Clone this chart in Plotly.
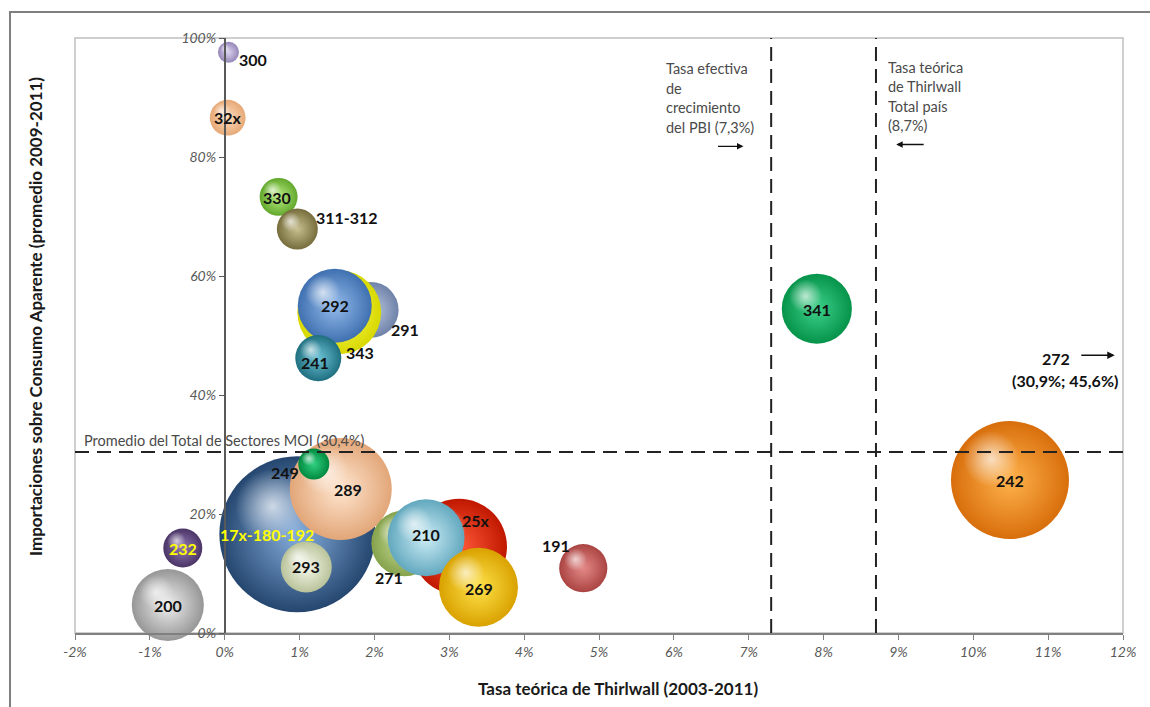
import math
import plotly.graph_objects as go

# Sectores (CIIU) y sus valores
sectores = ["17x-180-192", "242", "289", "25x", "271", "210", "269", "291", "343",
            "292", "241", "200", "341", "293", "191", "249", "232", "330",
            "311-312", "32x", "300"]
# Tasa teórica de Thirlwall 2003-2011 (%)
tasa_thirlwall = [0.97, 10.49, 1.55, 3.13, 2.40, 2.69, 3.39, 1.95, 1.53,
                  1.47, 1.25, -0.76, 7.91, 1.09, 4.79, 1.19, -0.56, 0.72,
                  0.97, 0.04, 0.05]
# Importaciones sobre consumo aparente, promedio 2009-2011 (%)
imp_consumo = [16.6, 25.7, 24.2, 14.5, 15.1, 16.0, 7.7, 54.3, 53.9,
               55.0, 46.2, 4.7, 54.5, 11.1, 10.9, 28.4, 14.3, 73.3,
               67.9, 86.6, 97.6]
# Tamaño relativo de cada burbuja
peso_sector = [60.8, 34.8, 26.0, 23.0, 10.9, 14.8, 15.6, 7.8, 17.6,
               13.7, 5.3, 13.0, 12.3, 6.5, 5.8, 2.4, 3.8, 3.6,
               4.2, 3.2, 1.1]

tasa_pbi = 7.3          # tasa efectiva de crecimiento del PBI
tasa_total_pais = 8.7   # tasa teórica de Thirlwall, total país
promedio_moi = 30.4     # promedio del total de sectores MOI
x_ticks = [-2, -1, 0, 1, 2, 3, 4, 5, 6, 7, 8, 9, 10, 11, 12]
y_ticks = [0, 20, 40, 60, 80, 100]

# Estilos de cada burbuja: color de borde y color del centro (efecto esfera)
borde = ["#24466F", "#D86E0C", "#E2A678", "#C01800", "#86A24C", "#62A8BE",
         "#D9A200", "#6F82A8", "#D8D800", "#3F70B0", "#1F6F80", "#969696",
         "#06934A", "#B9C39A", "#AA4442", "#00893F", "#4B3566", "#62A82C",
         "#776D3C", "#E6A876", "#9486B8"]
centro = ["#86AEDD", "#FFB34C", "#FFE6D0", "#FF5A3A", "#C8DE98", "#CDEDF6",
          "#FFE24A", "#BCCAE4", "#FFFF66", "#95BCEC", "#6CC3D6", "#F0F0F0",
          "#3CD08A", "#F6F8EC", "#E48A88", "#30D080", "#8F77B0", "#B9EC82",
          "#C8C090", "#FFDDBE", "#DCD3EE"]
# Desplazamiento de cada etiqueta en píxeles (dx a la derecha, dy hacia abajo)
desp = [(-30, 0), (0, 0), (7, 0), (17, -26), (-15, 34), (0, -3), (1, 1),
        (34, 20), (21, 40), (0, 0), (-3, 4), (0, 0), (0, 1), (0, 0),
        (-27, -23), (-29, 8), (0, 1), (-2, 1), (50, -11), (0, 0), (25, 7)]
etiqueta_amarilla = {"17x-180-192", "232"}

W, H = 1150, 707
ML, MR, MT, MB = 75, 27, 38, 74
XR = [-2, 12]
YR = [0, 100]
PW, PH = W - ML - MR, H - MT - MB
px_x = PW / (XR[1] - XR[0])
px_y = PH / (YR[1] - YR[0])
SIZEREF = 1 / 200.0

FONT = "Lato"

fig = go.Figure()

for i, s in enumerate(sectores):
    x, y, v = tasa_thirlwall[i], imp_consumo[i], peso_sector[i]
    r = math.sqrt(v / (2 * SIZEREF))  # radio en píxeles con sizemode="area"
    # esfera
    fig.add_trace(go.Scatter(
        x=[x], y=[y], mode="markers", hoverinfo="skip", showlegend=False,
        cliponaxis=False,
        marker=dict(size=[v], sizemode="area", sizeref=SIZEREF, opacity=1,
                    color=borde[i], line=dict(width=0),
                    gradient=dict(type="radial", color=centro[i]))))
    # brillo superior izquierdo
    fig.add_trace(go.Scatter(
        x=[x - 0.32 * r / px_x], y=[y + 0.36 * r / px_y], mode="markers",
        hoverinfo="skip", showlegend=False, cliponaxis=False,
        marker=dict(size=[0.95 * r], sizemode="diameter", sizeref=1, opacity=1,
                    color="rgba(255,255,255,0)", line=dict(width=0),
                    gradient=dict(type="radial", color="rgba(255,255,255,0.7)"))))

annotations = []
for i, s in enumerate(sectores):
    dx, dy = desp[i]
    annotations.append(dict(
        x=tasa_thirlwall[i], y=imp_consumo[i], xref="x", yref="y", text=s,
        showarrow=False, xshift=dx, yshift=-dy,
        font=dict(family=FONT, size=16, weight="bold",
                  color="#FFFF00" if s in etiqueta_amarilla else "#111111")))

texto_gris = dict(family=FONT, size=14.5, color="#4a4a4a")


def bloque_texto(lineas, x, y, paso):
    """Texto de varias líneas, alineado a la izquierda, con interlineado fijo."""
    return [dict(x=x, y=y, xref="x", yref="y", yshift=-k * paso, text=t,
                 showarrow=False, xanchor="left", yanchor="middle", font=texto_gris)
            for k, t in enumerate(lineas)]


annotations += [
    dict(x=0.007, y=promedio_moi, xref="paper", yref="y", yshift=12,
         text="Promedio del Total de Sectores MOI (30,4%)", showarrow=False,
         xanchor="left", yanchor="middle", font=texto_gris),
]
annotations += bloque_texto(["Tasa efectiva", "de", "crecimiento", "del PBI (7,3%)"],
                            5.87, 94.8, 19.5)
annotations += bloque_texto(["Tasa teórica", "de Thirlwall", "Total país", "(8,7%)"],
                            8.84, 95.1, 19.5)
annotations += [
    # flechas
    dict(x=6.93, y=81.8, xref="x", yref="y", ax=-27, ay=0, text="",
         showarrow=True, arrowhead=2, arrowsize=1, arrowwidth=1.3, arrowcolor="#111111"),
    dict(x=8.97, y=82.1, xref="x", yref="y", ax=29, ay=0, text="",
         showarrow=True, arrowhead=2, arrowsize=1, arrowwidth=1.3, arrowcolor="#111111"),
    dict(x=11.89, y=46.7, xref="x", yref="y", ax=-35, ay=0, text="",
         showarrow=True, arrowhead=2, arrowsize=1, arrowwidth=1.5, arrowcolor="#111111"),
    dict(x=11.11, y=46.2, xref="x", yref="y", text="272", showarrow=False,
         font=dict(family=FONT, size=16, weight="bold", color="#111111")),
    dict(x=11.23, y=42.5, xref="x", yref="y", text="(30,9%; 45,6%)", showarrow=False,
         font=dict(family=FONT, size=16, weight="bold", color="#111111")),
    # títulos de ejes
    dict(x=(35 - ML) / PW, y=(H - MB - 317) / PH, xref="paper", yref="paper",
         xanchor="center", yanchor="middle",
         text="Importaciones sobre Consumo Aparente (promedio 2009-2011)",
         textangle=-90, showarrow=False,
         font=dict(family=FONT, size=17, weight="bold", color="#1a1a1a")),
    dict(x=(618 - ML) / PW, y=-(688 - (H - MB)) / PH, xref="paper", yref="paper",
         xanchor="center", yanchor="middle",
         text="Tasa teórica de Thirlwall (2003-2011)", showarrow=False,
         font=dict(family=FONT, size=17, weight="bold", color="#1a1a1a")),
]

dash = "14px,8px"
shapes = [
    # marco exterior del gráfico
    dict(type="rect", xref="paper", yref="paper",
         x0=(10 - ML) / PW, x1=1.06,
         y0=-0.2, y1=(H - MB - 12) / PH,
         line=dict(color="#7f7f7f", width=2), layer="below"),
    # marco del área de trazado
    dict(type="rect", xref="paper", yref="paper", x0=0, x1=1, y0=0, y1=1,
         line=dict(color="#c0c0c0", width=1.5), layer="below"),
    dict(type="line", xref="paper", yref="y", x0=0, x1=1,
         y0=promedio_moi, y1=promedio_moi,
         line=dict(color="#222222", width=2, dash=dash)),
    dict(type="line", xref="x", yref="paper", x0=tasa_pbi, x1=tasa_pbi, y0=0, y1=1,
         line=dict(color="#222222", width=2, dash=dash)),
    dict(type="line", xref="x", yref="paper", x0=tasa_total_pais, x1=tasa_total_pais,
         y0=0, y1=1, line=dict(color="#222222", width=2, dash=dash)),
]

tickfont = dict(family=FONT, size=14, style="italic", color="#595959")
fig.update_layout(
    width=W, height=H, margin=dict(l=ML, r=MR, t=MT, b=MB),
    paper_bgcolor="white", plot_bgcolor="white", showlegend=False,
    xaxis=dict(range=XR, tickvals=x_ticks, ticktext=[f"{t}%" for t in x_ticks],
               showgrid=False, zeroline=False, showline=True, linecolor="#808080",
               linewidth=1.5, ticks="outside", ticklen=5, tickcolor="#808080",
               tickfont=tickfont, fixedrange=True),
    yaxis=dict(range=YR, tickvals=y_ticks, ticktext=[f"{t}%" for t in y_ticks],
               anchor="free", position=(0 - XR[0]) / (XR[1] - XR[0]),
               showgrid=False, zeroline=False, showline=True, linecolor="#595959",
               linewidth=1.5, ticks="outside", ticklen=5, tickcolor="#595959",
               tickfont=tickfont, fixedrange=True),
    annotations=annotations, shapes=shapes,
)

fig.write_html("out.html")
